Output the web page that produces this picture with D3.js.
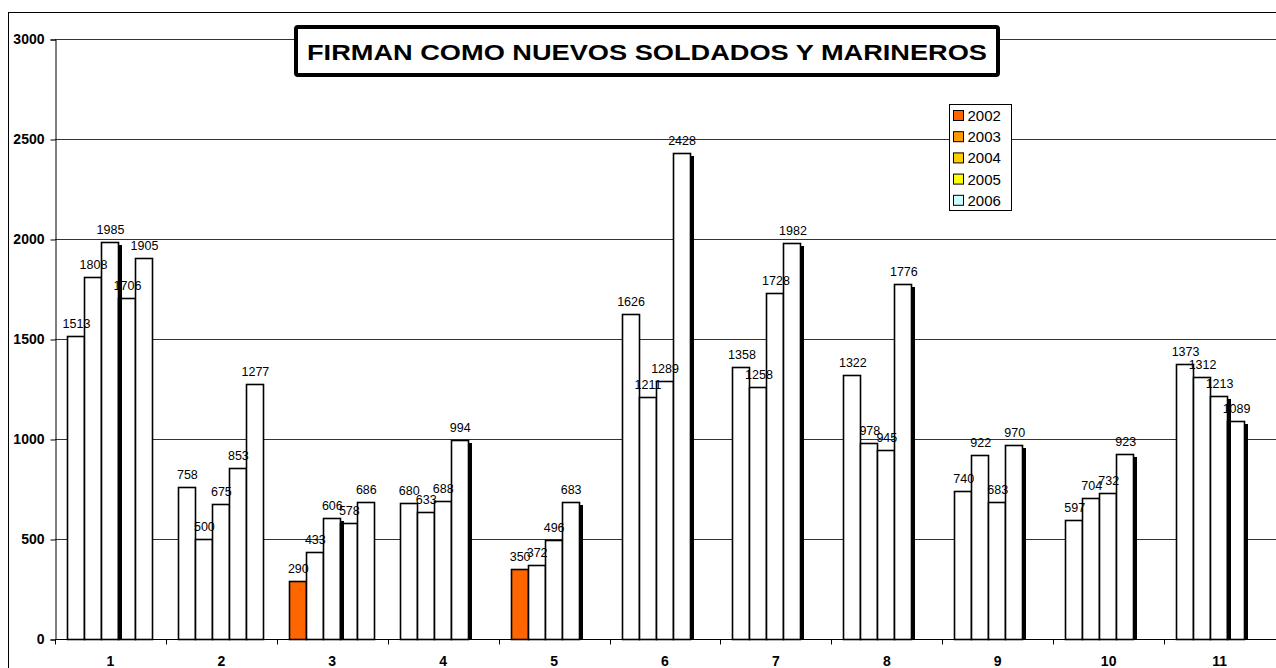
<!DOCTYPE html>
<html>
<head>
<meta charset="utf-8">
<script src="https://cdn.jsdelivr.net/npm/d3@7"></script>
<style>
  body { margin: 0; background: #fff; }
  svg { display: block; font-family: "Liberation Sans", Arial, sans-serif; }
</style>
</head>
<body>
<div id="chart"></div>
<script>
// categories (1..11) and the five yearly series
var categories = ["1", "2", "3", "4", "5", "6", "7", "8", "9", "10", "11"];
var years = ["2002", "2003", "2004", "2005", "2006"];
var yearColors = ["#FF6600", "#FF9900", "#FFCC00", "#FFFF00", "#CCFFFF"];

var v2002 = [1513, 758, 290, 680, 350, 1626, 1358, 1322, 740, 597, 1373];
var v2003 = [1808, 500, 433, 633, 372, 1211, 1258, 978, 922, 704, 1312];
var v2004 = [1985, 675, 606, 688, 496, 1289, 1728, 945, 683, 732, 1213];
var v2005 = [1706, 853, 578, 994, 683, 2428, 1982, 1776, 970, 923, 1089];
var v2006 = [1905, 1277, 686, null, null, null, null, null, null, null, null];

var yTicks = [0, 500, 1000, 1500, 2000, 2500, 3000];
var title = "FIRMAN COMO NUEVOS SOLDADOS Y MARINEROS";

// bars drawn in colour in the original (category index, series index)
var colouredBars = [[2, 0], [4, 0]];
// bars with the black drop shadow in the original
var shadowBars = [[0, 2], [2, 2], [3, 3], [4, 3], [5, 3], [6, 3], [7, 3], [8, 3], [9, 3], [10, 2], [10, 3]];

var width = 1276, height = 668;
var series = [v2002, v2003, v2004, v2005, v2006];

var svg = d3.select("#chart").append("svg")
  .attr("width", width)
  .attr("height", height);

// outer chart border
svg.append("rect")
  .attr("x", 8.5).attr("y", 12.5)
  .attr("width", width + 20).attr("height", height + 20)
  .attr("fill", "none").attr("stroke", "#000").attr("stroke-width", 1);

var plotLeft = 55, plotRight = 1275, plotTop = 39, plotBottom = 639;

var x0 = d3.scaleBand().domain(categories).range([plotLeft, plotRight]).padding(0);
var x1 = d3.scaleBand().domain(years).range([12, 97]).padding(0);
var y = d3.scaleLinear().domain([0, 3000]).range([plotBottom, plotTop]);

// gridlines
svg.append("g")
  .selectAll("line")
  .data(yTicks.filter(function(d) { return d > 0; }))
  .join("line")
    .attr("x1", plotLeft).attr("x2", plotRight + 5)
    .attr("y1", function(d) { return Math.round(y(d)) + 0.5; })
    .attr("y2", function(d) { return Math.round(y(d)) + 0.5; })
    .attr("stroke", "#333").attr("stroke-width", 1);

// y axis
var yAxis = svg.append("g")
  .attr("transform", "translate(" + (plotLeft + 0.5) + ",0.5)")
  .call(d3.axisLeft(y).tickValues(yTicks).tickSize(5).tickPadding(6).tickFormat(d3.format("d")));
yAxis.select(".domain").attr("stroke", "#000");
yAxis.selectAll("text")
  .attr("font-size", 14).attr("font-weight", "bold").attr("fill", "#000")
  .attr("font-family", "Liberation Sans, Arial, sans-serif");

// bars
var cells = [];
categories.forEach(function(c, i) {
  series.forEach(function(s, j) {
    if (s[i] != null) cells.push({cat: c, ci: i, sj: j, year: years[j], value: s[i]});
  });
});

function isIn(list, d) {
  return list.some(function(p) { return p[0] === d.ci && p[1] === d.sj; });
}

var bars = svg.append("g");
bars.selectAll("rect")
  .data(cells)
  .join("rect")
    .attr("x", function(d) { return Math.round(x0(d.cat) + x1(d.year)) + 0.5; })
    .attr("y", function(d) { return Math.round(y(d.value)) + 0.5; })
    .attr("width", x1.bandwidth())
    .attr("height", function(d) { return Math.round(y(0)) - Math.round(y(d.value)); })
    .attr("fill", function(d) { return isIn(colouredBars, d) ? yearColors[d.sj] : "#fff"; })
    .attr("stroke", "#000").attr("stroke-width", 1.6);

// drop shadows
svg.append("g")
  .selectAll("rect")
  .data(cells.filter(function(d) { return isIn(shadowBars, d); }))
  .join("rect")
    .attr("x", function(d) { return Math.round(x0(d.cat) + x1(d.year) + x1.bandwidth()) + 0.5; })
    .attr("y", function(d) { return Math.round(y(d.value)) + 3; })
    .attr("width", 3.5)
    .attr("height", function(d) { return Math.round(y(0)) - Math.round(y(d.value)) - 2.5; })
    .attr("fill", "#000");

// value labels
svg.append("g")
  .selectAll("text")
  .data(cells)
  .join("text")
    .attr("x", function(d) { return x0(d.cat) + x1(d.year) + x1.bandwidth() / 2 + 1; })
    .attr("y", function(d) { return y(d.value) - 8; })
    .attr("text-anchor", "middle")
    .attr("font-size", 12.5)
    .attr("fill", "#000")
    .text(function(d) { return d.value; });

// x axis
var xAxis = svg.append("g")
  .attr("transform", "translate(0," + (plotBottom + 0.5) + ")");
xAxis.append("line")
  .attr("x1", plotLeft).attr("x2", plotRight + 5)
  .attr("stroke", "#000");
xAxis.selectAll("line.tick")
  .data(categories)
  .join("line")
    .attr("class", "tick")
    .attr("x1", function(d) { return Math.round(x0(d)) + 0.5; })
    .attr("x2", function(d) { return Math.round(x0(d)) + 0.5; })
    .attr("y1", 0).attr("y2", 5)
    .attr("stroke", "#000");
xAxis.selectAll("text")
  .data(categories)
  .join("text")
    .attr("x", function(d) { return x0(d) + x0.bandwidth() / 2; })
    .attr("y", 26)
    .attr("text-anchor", "middle")
    .attr("font-size", 14).attr("font-weight", "bold")
    .text(function(d) { return d; });

// title box
var tg = svg.append("g");
tg.append("rect")
  .attr("x", 296).attr("y", 27)
  .attr("width", 702).attr("height", 48)
  .attr("rx", 2)
  .attr("fill", "#fff").attr("stroke", "#000").attr("stroke-width", 4);
tg.append("text")
  .attr("x", 647).attr("y", 60)
  .attr("text-anchor", "middle")
  .attr("font-size", 22).attr("font-weight", "bold")
  .attr("textLength", 680).attr("lengthAdjust", "spacingAndGlyphs")
  .text(title);

// legend
var lg = svg.append("g").attr("transform", "translate(949.5,104.5)");
lg.append("rect")
  .attr("width", 62).attr("height", 106)
  .attr("fill", "#fff").attr("stroke", "#000");
var items = lg.selectAll("g.item")
  .data(years)
  .join("g")
    .attr("class", "item")
    .attr("transform", function(d, i) { return "translate(0," + (11 + i * 21.2) + ")"; });
items.append("rect")
  .attr("x", 4).attr("y", -5)
  .attr("width", 10).attr("height", 10)
  .attr("fill", function(d, i) { return yearColors[i]; })
  .attr("stroke", "#000");
items.append("text")
  .attr("x", 18).attr("y", 5.5)
  .attr("font-size", 15)
  .text(function(d) { return d; });
</script>
</body>
</html>
